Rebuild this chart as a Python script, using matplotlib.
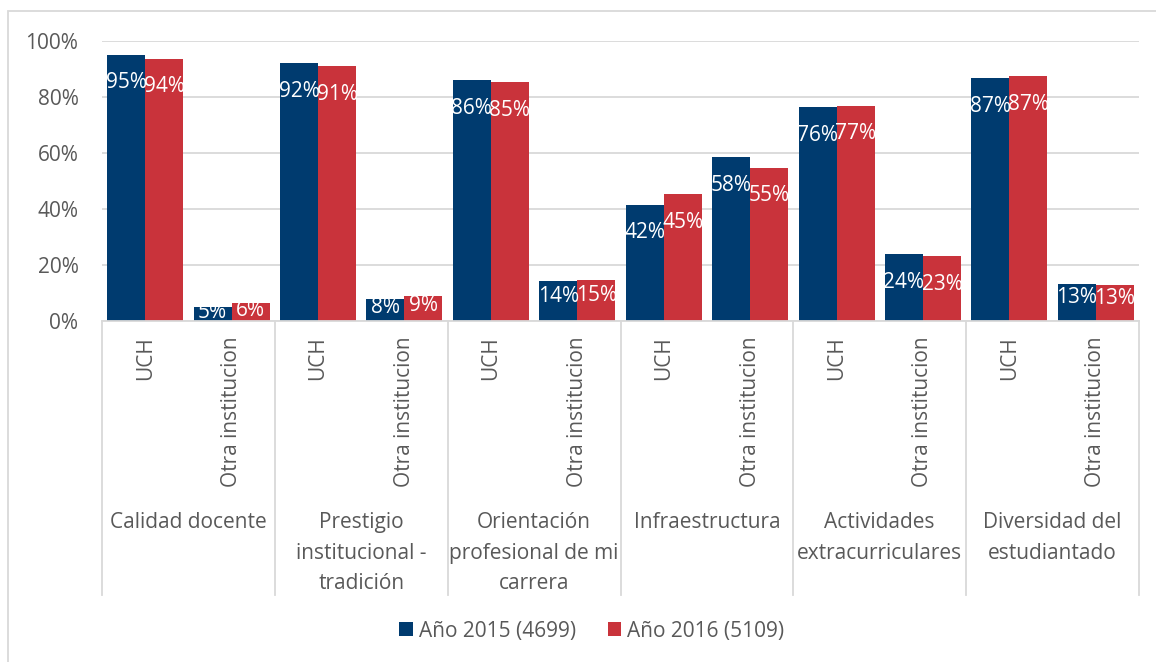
import matplotlib.pyplot as plt
from matplotlib.patches import Patch, Rectangle

plt.rcParams['font.family'] = ['Open Sans', 'DejaVu Sans']

groups = ['Calidad docente', 'Prestigio\ninstitucional -\ntradición',
          'Orientación\nprofesional de mi\ncarrera', 'Infraestructura',
          'Actividades\nextracurriculares', 'Diversidad del\nestudiantado']
subs = ['UCH', 'Otra institucion']
y2015 = [0.950, 0.050, 0.920, 0.080, 0.860, 0.143, 0.415, 0.585, 0.763, 0.238, 0.867, 0.133]
y2016 = [0.937, 0.063, 0.909, 0.091, 0.853, 0.146, 0.452, 0.548, 0.769, 0.232, 0.874, 0.127]
series = ['Año 2015 (4699)', 'Año 2016 (5109)']
colors = ['#003B6F', '#C9333B']
gray = '#595959'
light = '#D9D9D9'
fs = 15

W, H = 1156, 662
fig = plt.figure(figsize=(W / 100, H / 100), dpi=100)
ax = fig.add_axes([102 / W, 1 - 321 / H, (1139 - 102) / W, 280 / H])

n = len(y2015)
xs = list(range(n))
bw = 0.44
for vals, col, off in [(y2015, colors[0], -bw / 2), (y2016, colors[1], bw / 2)]:
    bars = ax.bar([x + off for x in xs], vals, width=bw, color=col, zorder=2)
    for b, v in zip(bars, vals):
        ly = v - 0.1 if v > 0.2 else v * 0.62
        ax.text(b.get_x() + b.get_width() / 2, ly, f'{round(v * 100):.0f}%',
                ha='center', va='center', color='white', fontsize=fs,
                clip_on=True, zorder=3)

ax.set_xlim(-0.5, n - 0.5)
ax.set_ylim(0, 1)
ax.set_yticks([0, 0.2, 0.4, 0.6, 0.8, 1.0])
ax.set_yticklabels(['0%', '20%', '40%', '60%', '80%', '100%'])
ax.tick_params(axis='y', length=0, pad=17, labelsize=fs, labelcolor=gray)
ax.set_xticks([])
ax.grid(axis='y', color=light, linewidth=1.3, zorder=0)
for s in ['left', 'right', 'top']:
    ax.spines[s].set_visible(False)
ax.spines['bottom'].set_color(light)
ax.spines['bottom'].set_linewidth(1.3)

# two-level category axis
xt = ax.get_xaxis_transform()
for i in range(n):
    ax.annotate(subs[i % 2], xy=(i, 0), xycoords=xt, xytext=(0, -15),
                textcoords='offset pixels', rotation=90, ha='center', va='top',
                fontsize=fs, color=gray)
for g in range(len(groups)):
    ax.annotate(groups[g], xy=(2 * g + 0.5, 0), xycoords=xt, xytext=(0, -191),
                textcoords='offset pixels', ha='center', va='top',
                fontsize=fs, color=gray, linespacing=1.6)
for g in range(len(groups) + 1):
    ax.plot([2 * g - 0.5, 2 * g - 0.5], [0, -274 / 280], transform=xt,
            color=light, linewidth=1.3, clip_on=False)

handles = [Patch(facecolor=c, label=s) for c, s in zip(colors, series)]
fig.legend(handles=handles, loc='center', bbox_to_anchor=(592 / W, 1 - 631 / H),
           ncol=2, frameon=False, fontsize=fs, labelcolor=gray,
           handlelength=0.65, handleheight=0.65, handletextpad=0.3,
           columnspacing=1.5)

fig.patches.append(Rectangle((8 / W, -0.1), 2, 1.1 - 11 / H, transform=fig.transFigure,
                             fill=False, edgecolor=light, linewidth=1.3))

fig.savefig('out.png', dpi=100, facecolor='white')
